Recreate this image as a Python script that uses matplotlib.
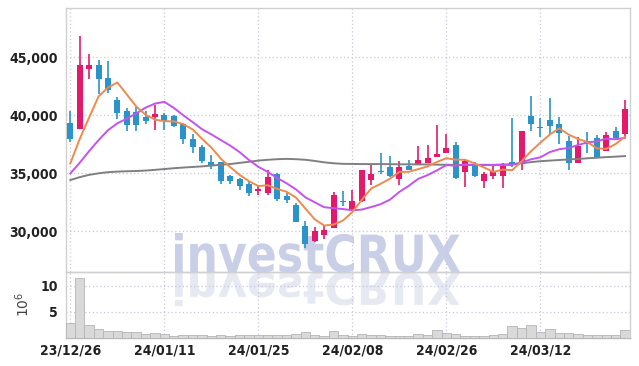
import numpy as np
import matplotlib
matplotlib.use("Agg")
import matplotlib.pyplot as plt
import matplotlib.font_manager as fm
from matplotlib.textpath import TextPath
from matplotlib.patches import PathPatch
from matplotlib.font_manager import FontProperties
from matplotlib.transforms import Affine2D, IdentityTransform

# ---------------- data ----------------
tick_idx = [0, 10, 20, 30, 40, 50]
tick_labels = ["23/12/26", "24/01/11", "24/01/25", "24/02/08", "24/02/26", "24/03/12"]

opens = [39350, 38800, 44000, 44300, 43200, 41300, 40400, 40300, 39850, 39850,
         40000, 39950, 39200, 37950, 37250, 35950, 35950, 34750, 34500, 34050,
         33500, 33300, 34900, 33000, 32250, 30450, 29100, 29650, 30300, 32600,
         31900, 32550, 34400, 35200, 35550, 34500, 35600, 35800, 35900, 36400,
         36750, 37400, 35100, 35700, 34350, 34750, 34750, 36000, 35800, 39950,
         38950, 39550, 39200, 37750, 35900, 37750, 38000, 36950, 38600, 38350]
highs = [40350, 46800, 45300, 44800, 44650, 41600, 40650, 40700, 40350, 40850,
         40150, 40050, 39350, 38350, 37400, 36550, 36000, 34850, 34600, 34350,
         34000, 35250, 35000, 33250, 32400, 30900, 30350, 30450, 33350, 33450,
         33500, 35300, 35800, 36700, 36450, 36050, 36100, 37350, 37450, 39150,
         38400, 37650, 36200, 36000, 35100, 35650, 35850, 39800, 38650, 41650,
         39750, 41450, 39850, 38200, 38150, 38550, 38250, 38550, 38950, 41350]
lows = [37700, 38800, 43100, 41800, 41950, 39700, 38600, 38600, 39200, 38750,
        38700, 38950, 37550, 36700, 35850, 35350, 34100, 34050, 33550, 33000,
        33100, 33100, 32600, 32400, 30750, 28550, 29050, 29350, 30300, 32150,
        31850, 32500, 34000, 34950, 34700, 34000, 35250, 35750, 35850, 36350,
        36700, 34450, 33800, 34650, 33700, 34450, 33700, 35500, 35250, 38600,
        38100, 38250, 37550, 35300, 35850, 36700, 36350, 36900, 37950, 38000]
closes = [37950, 44300, 44300, 43150, 42200, 40200, 39150, 39150, 39500, 40100,
          39500, 39100, 37950, 37250, 36050, 35700, 34300, 34300, 33900, 33300,
          33600, 34650, 32750, 32650, 30800, 28850, 30000, 30050, 33100, 32500,
          32550, 35250, 34950, 35100, 34750, 35500, 35250, 36100, 36300, 36650,
          37150, 34600, 36050, 34750, 34900, 35200, 35600, 35800, 38600, 39250,
          38900, 39100, 38500, 35900, 37350, 37550, 36400, 38250, 38000, 40500]
volumes = [2.85, 11.4, 2.5, 1.6, 1.25, 1.25, 1.0, 1.0, 0.67, 0.87,
           0.67, 0.3, 0.42, 0.42, 0.42, 0.23, 0.42, 0.23, 0.42, 0.42,
           0.42, 0.42, 0.42, 0.42, 0.67, 1.1, 0.42, 0.3, 1.25, 0.42,
           0.3, 0.6, 0.42, 0.42, 0.23, 0.23, 0.23, 0.6, 0.42, 1.4,
           0.87, 0.67, 0.23, 0.23, 0.23, 0.42, 0.67, 2.3, 1.8, 2.5,
           1.1, 1.7, 0.87, 0.87, 0.67, 0.55, 0.42, 0.42, 0.42, 1.4]
# moving-average values before enough in-chart history exists
ma5_head = [35840, 37950, 39800, 41620]
ma10_head = [34970, 35890, 36900, 37845, 38700, 39300, 39700, 40150, 40650]
ma_long = [34400, 34650, 34850, 34980, 35080, 35130, 35160, 35180, 35220, 35280,
           35350, 35420, 35480, 35530, 35580, 35650, 35720, 35780, 35880, 35980,
           36080, 36150, 36200, 36230, 36200, 36150, 36050, 35930, 35850, 35800,
           35790, 35780, 35780, 35780, 35770, 35760, 35760, 35750, 35750, 35730,
           35720, 35710, 35700, 35700, 35700, 35710, 35730, 35770, 35850, 35950,
           36030, 36080, 36130, 36180, 36220, 36280, 36330, 36380, 36420, 36470]

# ---------------- derived ----------------
c = np.array(closes, dtype=float)
def rolling(arr, n):
    return np.array([arr[i - n + 1:i + 1].mean() for i in range(n - 1, len(arr))])
ma5 = np.concatenate([ma5_head, rolling(c, 5)])
ma10 = np.concatenate([ma10_head, rolling(c, 10)])
x = np.arange(len(closes))

UP = "#e5196b"
DOWN = "#2b93c9"
GRID = "#c8c8dc"
EDGE = "#d0d0d0"

# choose a narrow font for tick labels if available
names = {f.name for f in fm.fontManager.ttflist}
cond_dejavu = any(f.name == "DejaVu Sans" and "condensed" in str(f.stretch) for f in fm.fontManager.ttflist)
if "Liberation Sans Narrow" in names:
    TFAM, TSTRETCH, YSIZE, XSIZE = ["Liberation Sans Narrow", "DejaVu Sans"], "normal", 11, 11
elif cond_dejavu:
    TFAM, TSTRETCH, YSIZE, XSIZE = ["DejaVu Sans"], "condensed", 10, 10
else:
    TFAM, TSTRETCH, YSIZE, XSIZE = ["Liberation Sans", "DejaVu Sans"], "normal", 10, 9.2

W, H = 639, 366
fig = plt.figure(figsize=(W / 100, H / 100), dpi=100)
fig.patch.set_facecolor("white")

def fr(px_left, px_top, px_right, px_bottom):
    return [px_left / W, 1 - px_bottom / H, (px_right - px_left) / W, (px_bottom - px_top) / H]

ax = fig.add_axes(fr(66, 8, 630, 272))
axv = fig.add_axes(fr(66, 272, 630, 337.5), sharex=ax)
for a in (ax, axv):
    a.set_facecolor("none")

# ---------------- watermark ----------------
fp = FontProperties(family="DejaVu Sans", weight="bold")
tp = TextPath((0, 0), "investCRUX", size=100, prop=fp)
bb = tp.get_extents()
x0, x1 = 175, 460
ytop, ybase = 233, 272
sx = (x1 - x0) / bb.width
sy = (ybase - ytop) / (bb.y1 - 0)
tr_main = Affine2D().translate(-bb.x0, 0).scale(sx, sy).translate(x0, H - ybase)
fig.patches.append(PathPatch(tr_main.transform_path(tp), facecolor="#c9cfe6", edgecolor="none",
                             transform=IdentityTransform(), zorder=-2, figure=fig))
tr_ref = Affine2D().translate(-bb.x0, 0).scale(sx, -sy * 0.85).translate(x0, H - ybase - 1)
fig.patches.append(PathPatch(tr_ref.transform_path(tp), facecolor="#e6e8f2", edgecolor="none",
                             transform=IdentityTransform(), zorder=-2, figure=fig))

# ---------------- price panel ----------------
for i in x:
    o, h, l, cl = opens[i], highs[i], lows[i], closes[i]
    col = UP if cl > o else DOWN
    ax.vlines(i, l, h, color=col, lw=1.2, zorder=3)
    body = max(abs(cl - o), 130)
    ax.bar(i, body, bottom=min(o, cl) - (body - abs(cl - o)) / 2, width=0.64, color=col, zorder=4, lw=0)

ax.plot(x, ma_long, color="#808080", lw=1.4, zorder=5)
ax.plot(x, ma10, color="#c452ee", lw=1.4, zorder=5)
ax.plot(x, ma5, color="#ef8a4c", lw=1.4, zorder=6)

ax.set_xlim(-0.46, 59.53)
ax.set_ylim(26460, 49257)
ax.set_yticks([30000, 35000, 40000, 45000])
ax.set_yticklabels(["30,000", "35,000", "40,000", "45,000"])
ax.grid(True, linestyle=(0, (1, 2)), color=GRID, lw=0.9)
ax.tick_params(axis="both", length=0, pad=6)
ax.tick_params(axis="x", labelbottom=False)
for s in ax.spines.values():
    s.set_color(EDGE)
    s.set_linewidth(1.0)

# ---------------- volume panel ----------------
axv.bar(x, volumes, width=1.0, color="#d9d9d9", edgecolor="#b5b5b5", lw=0.6, zorder=3)
axv.set_ylim(0, 12.6)
axv.set_yticks([5, 10])
axv.set_yticklabels(["5", "10"])
axv.set_xticks(tick_idx)
axv.set_xticklabels(tick_labels)
axv.grid(True, linestyle=(0, (1, 2)), color=GRID, lw=0.9)
axv.tick_params(axis="both", length=0, pad=6)
axv.tick_params(axis="x", pad=4)
for s in axv.spines.values():
    s.set_color(EDGE)
    s.set_linewidth(1.0)
axv.spines["bottom"].set_color("#b8b8b8")
axv.set_ylabel(r"$10^6$", fontsize=10, color="#444444", labelpad=6)
ax.set_xticks(tick_idx)

for lab in ax.get_yticklabels() + axv.get_yticklabels():
    lab.set_fontfamily(TFAM)
    lab.set_fontstretch(TSTRETCH)
    lab.set_fontweight("bold")
    lab.set_fontsize(YSIZE)
    lab.set_color("#222222")
for lab in axv.get_xticklabels():
    lab.set_fontfamily(TFAM)
    lab.set_fontstretch(TSTRETCH)
    lab.set_fontweight("bold")
    lab.set_fontsize(XSIZE)
    lab.set_color("#222222")

fig.savefig("out.png", dpi=100, facecolor="white")
